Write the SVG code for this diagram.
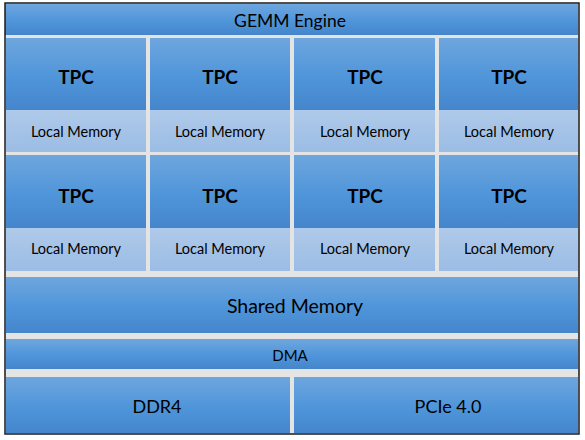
<svg xmlns="http://www.w3.org/2000/svg" width="585" height="440" viewBox="0 0 585 440">
<defs>
<linearGradient id="blue" x1="0" y1="0" x2="0" y2="1">
<stop offset="0" stop-color="#6ea6de"/>
<stop offset="0.55" stop-color="#4f95da"/>
<stop offset="1" stop-color="#4585cb"/>
</linearGradient>
<linearGradient id="light" x1="0" y1="0" x2="0" y2="1">
<stop offset="0" stop-color="#afcaea"/>
<stop offset="1" stop-color="#9bbce4"/>
</linearGradient>
</defs>
<style>
.b{fill:url(#blue)}
.l{fill:url(#light)}
text{font-family:Lato,"Open Sans","Liberation Sans",sans-serif;fill:#000;text-anchor:middle;dominant-baseline:central}
.t{font-weight:bold;font-size:19px}
.m{font-size:14.5px}
.big{font-size:18px}
</style>
<rect x="0" y="0" width="585" height="440" fill="#fff"/>
<rect x="5" y="3" width="574" height="431" fill="#e4e4e4"/>
<g id="gemm"><rect class="b" x="5" y="4" width="573" height="31"/><text x="290" y="20" style="font-size:17.5px">GEMM Engine</text></g>
<g id="tpc1"><rect class="b" x="6" y="38" width="140" height="72"/><rect class="l" x="6" y="110" width="140" height="42"/><text class="t" x="76" y="76">TPC</text><text class="m" x="76" y="131">Local Memory</text></g>
<g id="tpc2"><rect class="b" x="150" y="38" width="140" height="72"/><rect class="l" x="150" y="110" width="140" height="42"/><text class="t" x="220" y="76">TPC</text><text class="m" x="220" y="131">Local Memory</text></g>
<g id="tpc3"><rect class="b" x="294" y="38" width="141" height="72"/><rect class="l" x="294" y="110" width="141" height="42"/><text class="t" x="365" y="76">TPC</text><text class="m" x="365" y="131">Local Memory</text></g>
<g id="tpc4"><rect class="b" x="439" y="38" width="139" height="72"/><rect class="l" x="439" y="110" width="139" height="42"/><text class="t" x="509" y="76">TPC</text><text class="m" x="509" y="131">Local Memory</text></g>
<g id="tpc5"><rect class="b" x="6" y="155" width="140" height="73"/><rect class="l" x="6" y="228" width="140" height="43"/><text class="t" x="76" y="195">TPC</text><text class="m" x="76" y="248">Local Memory</text></g>
<g id="tpc6"><rect class="b" x="150" y="155" width="140" height="73"/><rect class="l" x="150" y="228" width="140" height="43"/><text class="t" x="220" y="195">TPC</text><text class="m" x="220" y="248">Local Memory</text></g>
<g id="tpc7"><rect class="b" x="294" y="155" width="141" height="73"/><rect class="l" x="294" y="228" width="141" height="43"/><text class="t" x="365" y="195">TPC</text><text class="m" x="365" y="248">Local Memory</text></g>
<g id="tpc8"><rect class="b" x="439" y="155" width="139" height="73"/><rect class="l" x="439" y="228" width="139" height="43"/><text class="t" x="509" y="195">TPC</text><text class="m" x="509" y="248">Local Memory</text></g>
<g id="shared"><rect class="b" x="6" y="277" width="572" height="56"/><text x="295" y="305" style="font-size:19.5px">Shared Memory</text></g>
<g id="dma"><rect class="b" x="6" y="339" width="572" height="30"/><text x="290" y="355" style="font-size:15px">DMA</text></g>
<g id="ddr4"><rect class="b" x="6" y="377" width="284" height="56"/><text class="big" x="157" y="406">DDR4</text></g>
<g id="pcie"><rect class="b" x="294" y="377" width="284" height="56"/><text class="big" x="448" y="406">PCIe 4.0</text></g>
<g id="connectors"></g>
<rect x="5" y="3" width="574" height="431" fill="none" stroke="#1a1a1a" stroke-width="1.5"/>
</svg>
